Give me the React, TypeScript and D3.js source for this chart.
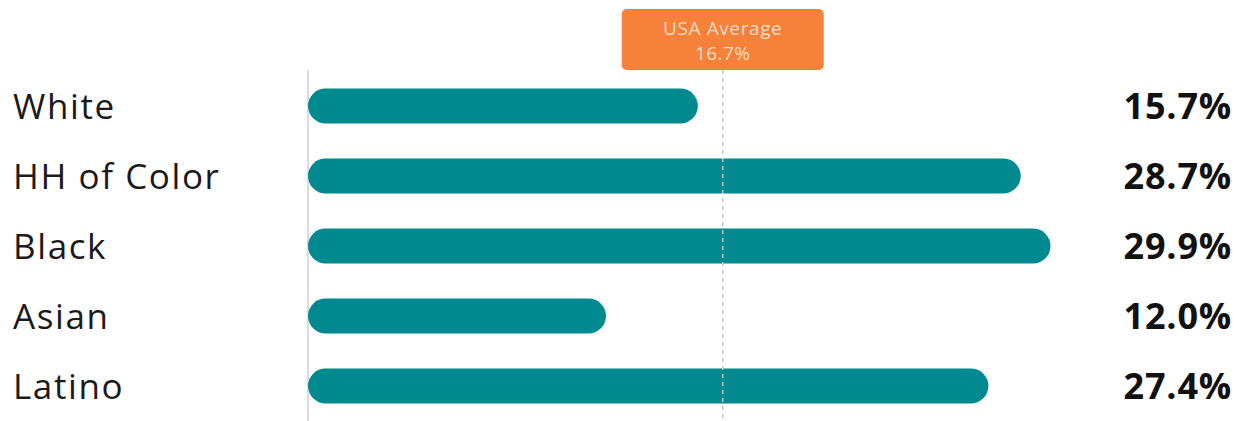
import React from "react";
import * as d3 from "d3";

const groups = ["White", "HH of Color", "Black", "Asian", "Latino"];
const values = [15.7, 28.7, 29.9, 12.0, 27.4];
const average = 16.7;
const averageLabel = "USA Average";

const W = 1240;
const H = 421;

const App = () => {
  const ref = React.useRef<SVGSVGElement>(null);

  React.useEffect(() => {
    const svg = d3.select(ref.current);
    svg.selectAll("*").remove();

    const x = d3.scaleLinear().domain([0, 30]).range([308, 1053]);
    const y = d3.scaleBand().domain(groups).range([71, 421]).paddingInner(0.5).paddingOuter(0.25);
    const bh = y.bandwidth();

    // baseline
    svg.append("line")
      .attr("x1", x(0)).attr("x2", x(0))
      .attr("y1", 70).attr("y2", H)
      .attr("stroke", "#dcdcdc").attr("stroke-width", 2);

    svg.selectAll(".bar")
      .data(values)
      .enter()
      .append("rect")
      .attr("x", x(0))
      .attr("y", (d, i) => y(groups[i]))
      .attr("width", (d) => x(d) - x(0))
      .attr("height", bh)
      .attr("rx", bh / 2)
      .attr("fill", "#008a90");

    // average line
    svg.append("line")
      .attr("x1", x(average)).attr("x2", x(average))
      .attr("y1", 70).attr("y2", H)
      .attr("stroke", "#c4c4c4").attr("stroke-width", 1.5)
      .attr("stroke-dasharray", "4 4");

    svg.append("rect")
      .attr("x", x(average) - 101).attr("y", 9)
      .attr("width", 202).attr("height", 61)
      .attr("rx", 5)
      .attr("fill", "#f5813a");

    svg.append("text")
      .attr("x", x(average)).attr("y", 35)
      .attr("text-anchor", "middle")
      .attr("fill", "#fcdcc2")
      .attr("font-size", 19)
      .attr("letter-spacing", 0.6)
      .text(averageLabel);
    svg.append("text")
      .attr("x", x(average)).attr("y", 60)
      .attr("text-anchor", "middle")
      .attr("fill", "#fcdcc2")
      .attr("font-size", 19)
      .attr("letter-spacing", 0.4)
      .text(`${average.toFixed(1)}%`);

    svg.selectAll(".label")
      .data(groups)
      .enter()
      .append("text")
      .attr("x", 13)
      .attr("y", (d) => y(d) + bh / 2)
      .attr("dy", "0.36em")
      .attr("font-size", 35)
      .attr("letter-spacing", 1.6)
      .attr("fill", "#1a1a1a")
      .text((d) => d);

    svg.selectAll(".val")
      .data(values)
      .enter()
      .append("text")
      .attr("x", 1232)
      .attr("y", (d, i) => y(groups[i]) + bh / 2)
      .attr("dy", "0.36em")
      .attr("text-anchor", "end")
      .attr("font-size", 36)
      .attr("letter-spacing", 0.8)
      .attr("font-weight", "bold")
      .attr("fill", "#111")
      .text((d) => `${d.toFixed(1)}%`);
  }, []);

  return (
    <svg
      ref={ref}
      width={W}
      height={H}
      style={{ display: "block", position: "absolute", left: 0, top: 0, fontFamily: "'Open Sans', sans-serif", background: "#fff" }}
    />
  );
};

export default App;
